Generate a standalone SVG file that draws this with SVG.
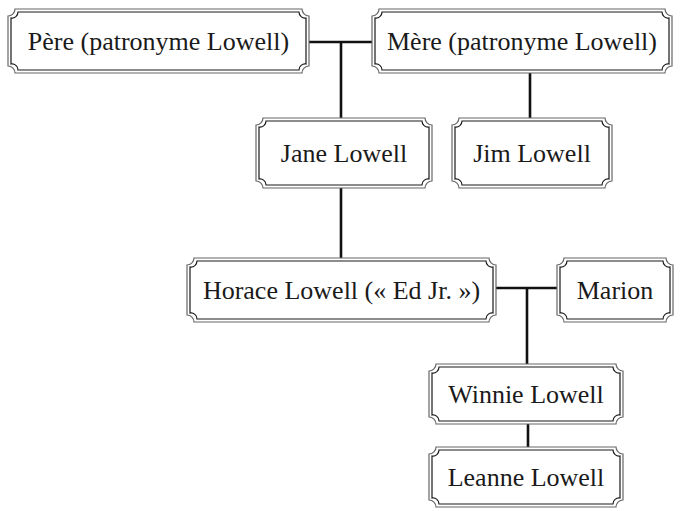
<svg xmlns="http://www.w3.org/2000/svg" width="681" height="511" viewBox="0 0 681 511">
<style>
.o{fill:#fff;stroke:#666;stroke-width:1.2}
.i{fill:none;stroke:#1a1a1a;stroke-width:1.2}
.t{font-family:"Liberation Serif","DejaVu Serif",serif;font-size:26px;fill:#1a1a1a;text-anchor:middle}
.c{stroke:#111;stroke-width:2.6;fill:none}
</style>
<rect width="681" height="511" fill="#fff"/>
<g id="connectors">
<path class="c" d="M309 42H372M341 42V118M530 73V118M341 188V258M496 288H557M527 288V364M528 424V447"/>
</g>
<g id="pere">
<path class="o" d="M15 9H302A7 7 0 0 0 309 16V66A7 7 0 0 0 302 73H15A7 7 0 0 0 8 66V16A7 7 0 0 0 15 9Z"/>
<path class="i" d="M18 12H299A6 6 0 0 0 306 18V64A6 6 0 0 0 299 70H18A6 6 0 0 0 11 64V18A6 6 0 0 0 18 12Z"/>
<text class="t" x="158.5" y="50">Père (patronyme Lowell)</text>
</g>
<g id="mere">
<path class="o" d="M379 9H665A7 7 0 0 0 672 16V66A7 7 0 0 0 665 73H379A7 7 0 0 0 372 66V16A7 7 0 0 0 379 9Z"/>
<path class="i" d="M382 12H662A6 6 0 0 0 669 18V64A6 6 0 0 0 662 70H382A6 6 0 0 0 375 64V18A6 6 0 0 0 382 12Z"/>
<text class="t" x="522" y="50">Mère (patronyme Lowell)</text>
</g>
<g id="jane">
<path class="o" d="M263 118H425A7 7 0 0 0 432 125V181A7 7 0 0 0 425 188H263A7 7 0 0 0 256 181V125A7 7 0 0 0 263 118Z"/>
<path class="i" d="M266 121H422A6 6 0 0 0 429 127V179A6 6 0 0 0 422 185H266A6 6 0 0 0 259 179V127A6 6 0 0 0 266 121Z"/>
<text class="t" x="344" y="162">Jane Lowell</text>
</g>
<g id="jim">
<path class="o" d="M459 118H605A7 7 0 0 0 612 125V181A7 7 0 0 0 605 188H459A7 7 0 0 0 452 181V125A7 7 0 0 0 459 118Z"/>
<path class="i" d="M462 121H602A6 6 0 0 0 609 127V179A6 6 0 0 0 602 185H462A6 6 0 0 0 455 179V127A6 6 0 0 0 462 121Z"/>
<text class="t" x="532" y="162">Jim Lowell</text>
</g>
<g id="horace">
<path class="o" d="M194 258H489A7 7 0 0 0 496 265V315A7 7 0 0 0 489 322H194A7 7 0 0 0 187 315V265A7 7 0 0 0 194 258Z"/>
<path class="i" d="M197 261H486A6 6 0 0 0 493 267V313A6 6 0 0 0 486 319H197A6 6 0 0 0 190 313V267A6 6 0 0 0 197 261Z"/>
<text class="t" x="341.5" y="299">Horace Lowell (« Ed Jr. »)</text>
</g>
<g id="marion">
<path class="o" d="M564 258H666A7 7 0 0 0 673 265V315A7 7 0 0 0 666 322H564A7 7 0 0 0 557 315V265A7 7 0 0 0 564 258Z"/>
<path class="i" d="M567 261H663A6 6 0 0 0 670 267V313A6 6 0 0 0 663 319H567A6 6 0 0 0 560 313V267A6 6 0 0 0 567 261Z"/>
<text class="t" x="615" y="299">Marion</text>
</g>
<g id="winnie">
<path class="o" d="M436 364H616A7 7 0 0 0 623 371V417A7 7 0 0 0 616 424H436A7 7 0 0 0 429 417V371A7 7 0 0 0 436 364Z"/>
<path class="i" d="M439 367H613A6 6 0 0 0 620 373V415A6 6 0 0 0 613 421H439A6 6 0 0 0 432 415V373A6 6 0 0 0 439 367Z"/>
<text class="t" x="526" y="403">Winnie Lowell</text>
</g>
<g id="leanne">
<path class="o" d="M436 447H616A7 7 0 0 0 623 454V500A7 7 0 0 0 616 507H436A7 7 0 0 0 429 500V454A7 7 0 0 0 436 447Z"/>
<path class="i" d="M439 450H613A6 6 0 0 0 620 456V498A6 6 0 0 0 613 504H439A6 6 0 0 0 432 498V456A6 6 0 0 0 439 450Z"/>
<text class="t" x="526" y="486">Leanne Lowell</text>
</g>
</svg>
